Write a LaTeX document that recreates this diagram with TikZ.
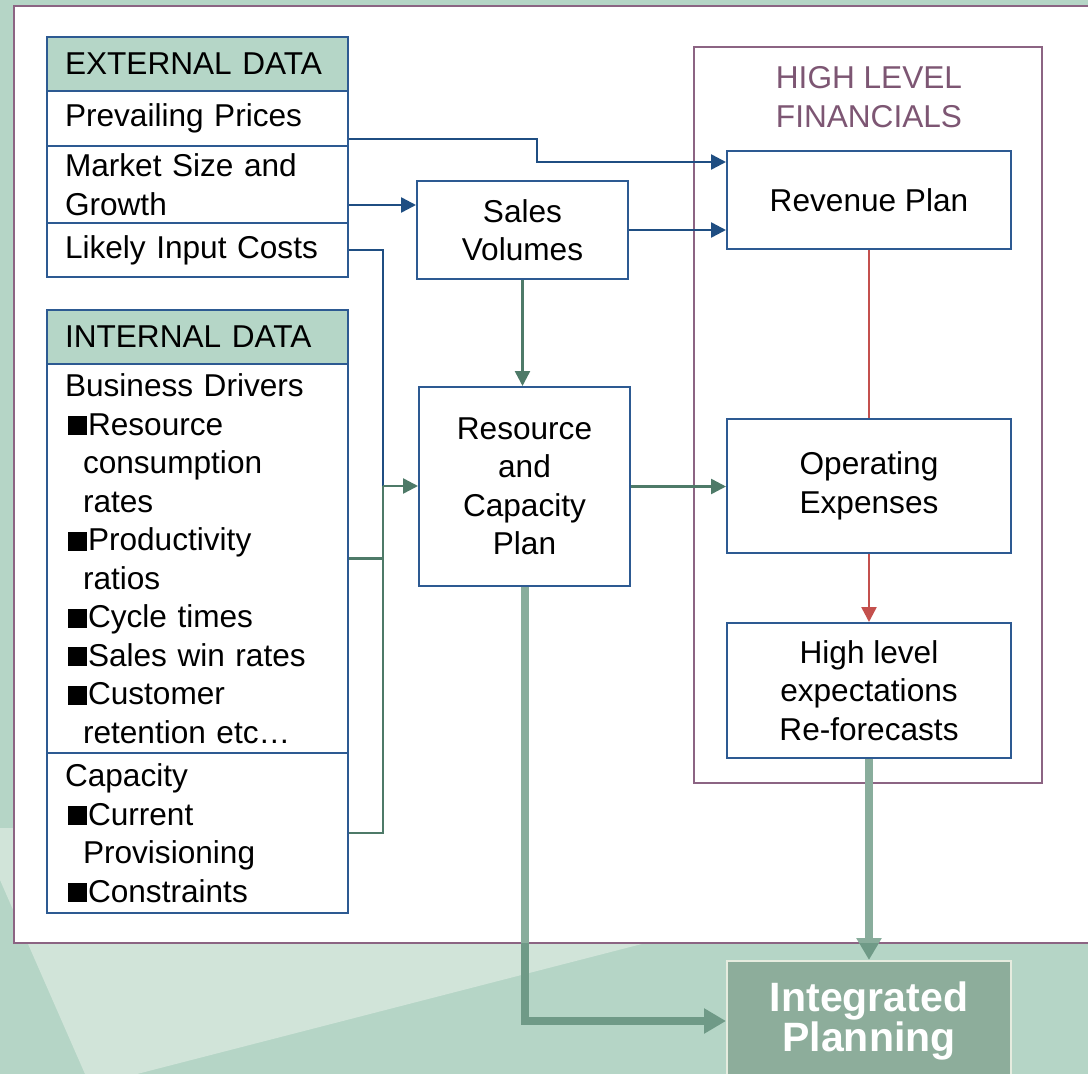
\documentclass[tikz,border=0pt]{standalone}
\usepackage{fontspec}
\setmainfont{Liberation Sans}
\usetikzlibrary{arrows.meta,calc}
\definecolor{bggreen}{HTML}{B5D5C6}
\definecolor{bglight}{HTML}{D1E4D9}
\definecolor{panelborder}{HTML}{8C6483}
\definecolor{boxblue}{HTML}{2D5A92}
\definecolor{arrowblue}{HTML}{1F4E82}
\definecolor{linegreen}{HTML}{4E7A68}
\definecolor{linered}{HTML}{C4504D}
\definecolor{headgreen}{HTML}{B5D6C7}
\definecolor{titlepurple}{HTML}{7D5673}
\definecolor{thicklight}{HTML}{89AD9C}
\definecolor{thickdark}{HTML}{6F9A87}
\definecolor{intfill}{HTML}{8DAD9B}
\definecolor{intborder}{HTML}{E6ECDF}
\newcommand\blt{\hspace*{3pt}\rule{19pt}{19pt}\hspace{1pt}}
\tikzset{
  txt/.style={font=\fontsize{31.6}{38.5}\selectfont},
  row/.style={txt, draw=boxblue, line width=2pt, fill=white, anchor=north west,
    text width=265pt, inner xsep=18pt, inner ysep=0pt, align=left},
  hdr/.style={row, fill=headgreen},
  procbox/.style={txt, draw=boxblue, line width=2pt, fill=white, anchor=north west,
    align=center, inner sep=0pt},
  groupbox/.style={draw=panelborder, line width=2pt, anchor=north west, inner sep=0pt},
  bluearrow/.style={draw=arrowblue, line width=2.5pt, -{Triangle[length=15pt,width=15pt]}},
  blueline/.style={draw=arrowblue, line width=2.5pt},
  greenarrow/.style={draw=linegreen, line width=2.5pt, -{Triangle[length=15pt,width=15pt]}},
  greenline/.style={draw=linegreen, line width=2.5pt},
  redarrow/.style={draw=linered, line width=2.5pt, -{Triangle[length=15pt,width=15pt]}},
  redline/.style={draw=linered, line width=2.5pt},
  thickarrow/.style={line width=8pt, -{Triangle[length=22pt,width=24pt]}},
}
\begin{document}
\begin{tikzpicture}[x=1pt,y=-1pt]
\useasboundingbox (0,0) rectangle (1088,1074);
% background
\fill[bggreen] (0,0) rectangle (1088,1074);
\fill[bglight] (0,828) -- (700,828) -- (700,929) -- (137,1074) -- (85,1074) -- (0,880) -- cycle;
% white panel
\draw[panelborder, line width=2.5pt, fill=white] (14,6) rectangle (1100,943);

% external data table
\node[hdr, minimum height=54pt] (ext) at (46,36) {EXTERNAL DATA};
\node[row, minimum height=55pt] (pp) at (46,90) {Prevailing Prices};
\node[row, minimum height=77pt] (ms) at (46,145) {Market Size and\\Growth};
\node[row, minimum height=54pt] (lic) at (46,222) {Likely Input Costs};

% internal data table
\node[hdr, minimum height=54pt] (int) at (46,309) {INTERNAL DATA};
\node[row, minimum height=389pt] (bd) at (46,363) {Business Drivers\\
\blt Resource\\\hspace*{18pt}consumption\\\hspace*{18pt}rates\\
\blt Productivity\\\hspace*{18pt}ratios\\
\blt Cycle times\\
\blt Sales win rates\\
\blt Customer\\\hspace*{18pt}retention etc…};
\node[row, minimum height=160pt] (cap) at (46,752) {Capacity\\
\blt Current\\\hspace*{18pt}Provisioning\\
\blt Constraints};

% middle boxes
\node[procbox, minimum width=211pt, minimum height=98pt] (sv) at (416,180) {Sales\\Volumes};
\node[procbox, minimum width=211pt, minimum height=199pt] (rc) at (418,386) {Resource\\and\\Capacity\\Plan};

% high level financials group
\node[groupbox, minimum width=348pt, minimum height=736pt] (hlf) at (693,46) {};
\node[txt, text=titlepurple, align=center, inner sep=0pt] (hlft) at (869,97) {HIGH LEVEL\\FINANCIALS};
\node[procbox, minimum width=284pt, minimum height=98pt] (rev) at (726,150) {Revenue Plan};
\node[procbox, minimum width=284pt, minimum height=134pt] (opx) at (726,418) {Operating\\Expenses};
\node[procbox, minimum width=284pt, minimum height=135pt] (hle) at (726,622) {High level\\expectations\\Re-forecasts};

% integrated planning
\node[draw=intborder, line width=2pt, fill=intfill, anchor=north west, minimum width=284pt,
  minimum height=120pt, text=white, align=center, inner sep=0pt,
  font=\bfseries\fontsize{41}{40}\selectfont] (ip) at (726,960) {Integrated\\Planning};

% connectors
\coordinate (b1) at (537,162);
\coordinate (j) at (383,486);
\draw[bluearrow] ([yshift=8pt]pp.south east) -| (b1) -- (b1 -| rev.west);
\draw[bluearrow] ([yshift=19pt]ms.south east) -- ([yshift=19pt]ms.south east -| sv.west);
\draw[bluearrow] (sv.east) -- (sv.east -| rev.west);
\draw[greenarrow] (sv.south) -- (sv.south |- rc.north);
\draw[greenline] (bd.east) -| (j);
\draw[greenline] (cap.east) -| (j);
\draw[blueline] (lic.east) -| (j);
\draw[greenarrow] (j) -- (j -| rc.west);
\draw[greenarrow] (rc.east) -- (rc.east -| opx.west);
\draw[redline] (rev.south) -- (opx.north);
\draw[redarrow] (opx.south) -- (hle.north);
% thick connectors: lighter over the white panel, darker over the background
\begin{scope}
  \clip (14,6) rectangle (1100,943);
  \draw[thickarrow, draw=thicklight] (hle.south) -- (ip.north);
  \draw[thickarrow, draw=thicklight] (rc.south) |- (ip.west);
\end{scope}
\begin{scope}
  \clip (0,943) rectangle (1088,1074);
  \draw[thickarrow, draw=thickdark] (hle.south) -- (ip.north);
  \draw[thickarrow, draw=thickdark] (rc.south) |- (ip.west);
\end{scope}
\end{tikzpicture}
\end{document}
